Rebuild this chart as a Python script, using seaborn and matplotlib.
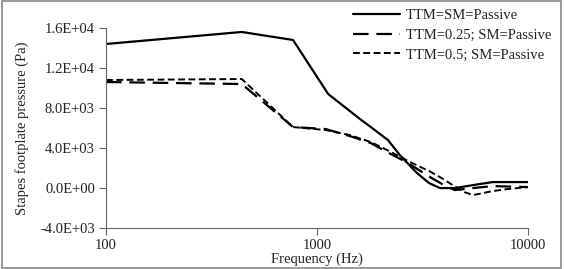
import matplotlib
matplotlib.use("Agg")
import matplotlib.pyplot as plt
from matplotlib.patches import Rectangle
import seaborn as sns

# === Data ===
freq_passive = [100, 440, 770, 1130, 1600, 1800, 2170, 2470, 2980, 3400, 3830, 4500, 5500, 6800, 10000]
p_passive = [14400, 15600, 14800, 9400, 6900, 6100, 4800, 3300, 1500, 500, 0, 0, 300, 600, 600]

freq_025 = [100, 440, 770, 1100, 1430, 1800, 2150, 2650, 3100, 3500, 4000, 4500, 5500, 6800, 10000]
p_025 = [10600, 10400, 6100, 5900, 5200, 4500, 3600, 2600, 1700, 1000, 300, -200, 0, 200, 100]

freq_05 = [100, 440, 770, 1100, 1430, 1800, 2150, 2650, 3100, 3400, 3900, 4400, 5000, 5500, 6800, 8000, 10000]
p_05 = [10800, 10900, 6100, 5800, 5300, 4600, 3800, 2800, 2100, 1700, 1000, 300, -400, -700, -300, -100, 100]

labels = ["TTM=SM=Passive", "TTM=0.25; SM=Passive", "TTM=0.5; SM=Passive"]
y_ticks = [-4000, 0, 4000, 8000, 12000, 16000]
y_tick_labels = ["-4.0E+03", "0.0E+00", "4.0E+03", "8.0E+03", "1.2E+04", "1.6E+04"]
x_ticks = [100, 1000, 10000]

FS = 10.5
TEXT = "#222222"
AXIS = "#666666"

sns.set_style("white")
plt.rcParams["font.family"] = ["Liberation Serif", "DejaVu Serif"]

fig = plt.figure(figsize=(5.64, 2.69), dpi=100)
ax = fig.add_axes([0.188, 0.152, 0.748, 0.744])

sns.lineplot(x=freq_passive, y=p_passive, ax=ax, color="black", linewidth=1.6,
             label=labels[0])
sns.lineplot(x=freq_025, y=p_025, ax=ax, color="black", linewidth=1.6,
             linestyle=(0, (7, 3.5)), label=labels[1])
sns.lineplot(x=freq_05, y=p_05, ax=ax, color="black", linewidth=1.4,
             linestyle=(0, (3.5, 1.8)), label=labels[2])

ax.set_xscale("log")
ax.set_xlim(100, 10000)
ax.set_ylim(-4000, 16000)
ax.set_xticks(x_ticks)
ax.set_xticklabels([str(t) for t in x_ticks])
ax.xaxis.set_minor_locator(matplotlib.ticker.NullLocator())
ax.set_yticks(y_ticks)
ax.set_yticklabels(y_tick_labels)

ax.tick_params(axis="both", which="major", direction="out", length=5, width=0.8,
               color=AXIS, labelsize=FS, pad=3, labelcolor=TEXT)
ax.tick_params(axis="y", left=True)
ax.tick_params(axis="x", bottom=True)

for side in ["top", "right"]:
    ax.spines[side].set_visible(False)
for side in ["left", "bottom"]:
    ax.spines[side].set_color(AXIS)
    ax.spines[side].set_linewidth(0.8)

ax.set_xlabel("Frequency (Hz)", fontsize=FS, color=TEXT)
ax.set_ylabel("Stapes footplate pressure (Pa)", fontsize=FS, color=TEXT)
ax.xaxis.set_label_coords(0.5, -0.12)
ax.yaxis.set_label_coords(-0.183, 0.5)

leg = ax.legend(loc="upper left", bbox_to_anchor=(353 / 564, 1 - 9 / 269),
                bbox_transform=fig.transFigure, frameon=False, borderpad=0,
                borderaxespad=0, fontsize=FS, handlelength=3.2,
                handletextpad=0.45, labelspacing=0.44)
for t in leg.get_texts():
    t.set_color(TEXT)

# light gray frame round the whole picture
fig.patches.append(Rectangle((0.003, 0.005), 0.992, 0.99, transform=fig.transFigure,
                             fill=False, edgecolor="#888888", linewidth=1.2))

fig.savefig("out.png", dpi=100)
